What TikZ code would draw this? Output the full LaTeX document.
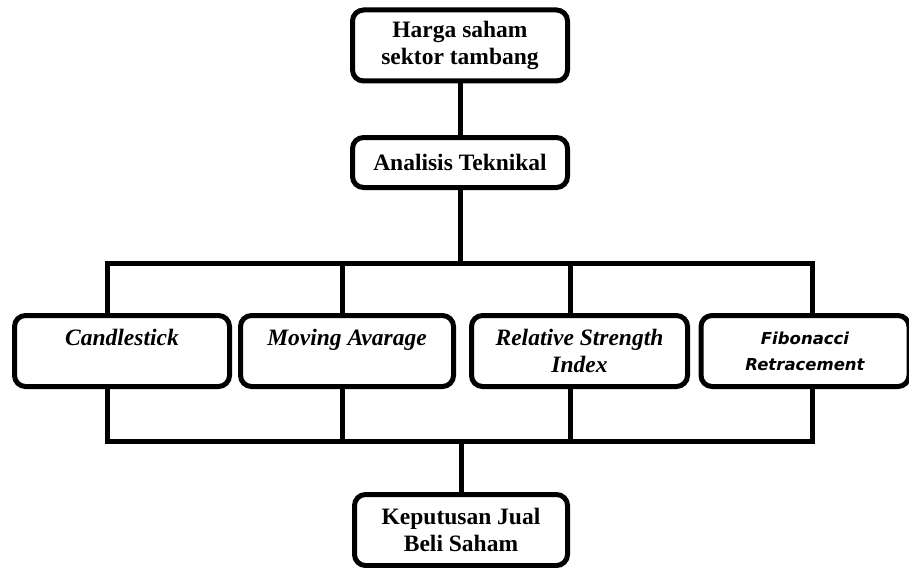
\documentclass[tikz,border=0pt]{standalone}
\usepackage{fontspec}
\setmainfont{Liberation Serif}
\newfontfamily\fibfont{DejaVu Sans}
\usepackage{tikz}

\tikzset{
	box/.style={draw=black, line width=5pt, rounded corners=11pt, fill=white,
		align=center, inner sep=0pt, font=\fontsize{23.5}{27}\selectfont\bfseries},
	link/.style={black, line width=5pt, line cap=rect}
}

\begin{document}
\begin{tikzpicture}[x=1pt, y=-1pt]
			\def\bw{215}
			\def\bh{71}
			\useasboundingbox (0,0) rectangle (909,567);

			\node[box, minimum width=\bw, minimum height=\bh] (harga) at (460,45.5) {Harga saham\\sektor tambang};
			\node[box, minimum width=\bw, minimum height=50] (analisis) at (460,162.5) {Analisis Teknikal};

			\node[box, minimum width=\bw, minimum height=\bh, font=\fontsize{23.5}{27}\selectfont\bfseries\itshape] (candle) at (122,351) {Candlestick\\\mbox{}};
			\node[box, minimum width=213, minimum height=\bh, font=\fontsize{23.5}{27}\selectfont\bfseries\itshape] (ma) at (347,351) {Moving Avarage\\\mbox{}};
			\node[box, minimum width=216, minimum height=\bh, font=\fontsize{23.5}{27}\selectfont\bfseries\itshape] (rsi) at (579.5,351) {Relative Strength\\Index};
			\node[box, minimum width=208, minimum height=\bh, font=\fontsize{16.5}{26}\selectfont\fibfont\bfseries\itshape] (fib) at (805,351) {Fibonacci\\Retracement};

			\node[box, minimum width=213, minimum height=\bh] (keputusan) at (461,530) {Keputusan Jual\\Beli Saham};

			% bus lines
			\coordinate (t1) at (107,263);
			\coordinate (t2) at (342,263);
			\coordinate (t3) at (570,263);
			\coordinate (t4) at (812,263);
			\coordinate (b1) at (107,441);
			\coordinate (b2) at (342,441);
			\coordinate (b3) at (570,441);
			\coordinate (b4) at (812,441);

			\draw[link] (harga) -- (analisis);
			\draw[link] (analisis.south) -- (analisis.south |- t1);
			\draw[link] (t1) -- (t4);
			\draw[link] (b1) -- (b4);
			\foreach \i/\n in {1/candle, 2/ma, 3/rsi, 4/fib} {
				\draw[link] (t\i) -- (t\i |- \n.north);
				\draw[link] (b\i |- \n.south) -- (b\i);
			}
			\draw[link] (keputusan.north |- b1) -- (keputusan.north);
		\end{tikzpicture}
\end{document}
